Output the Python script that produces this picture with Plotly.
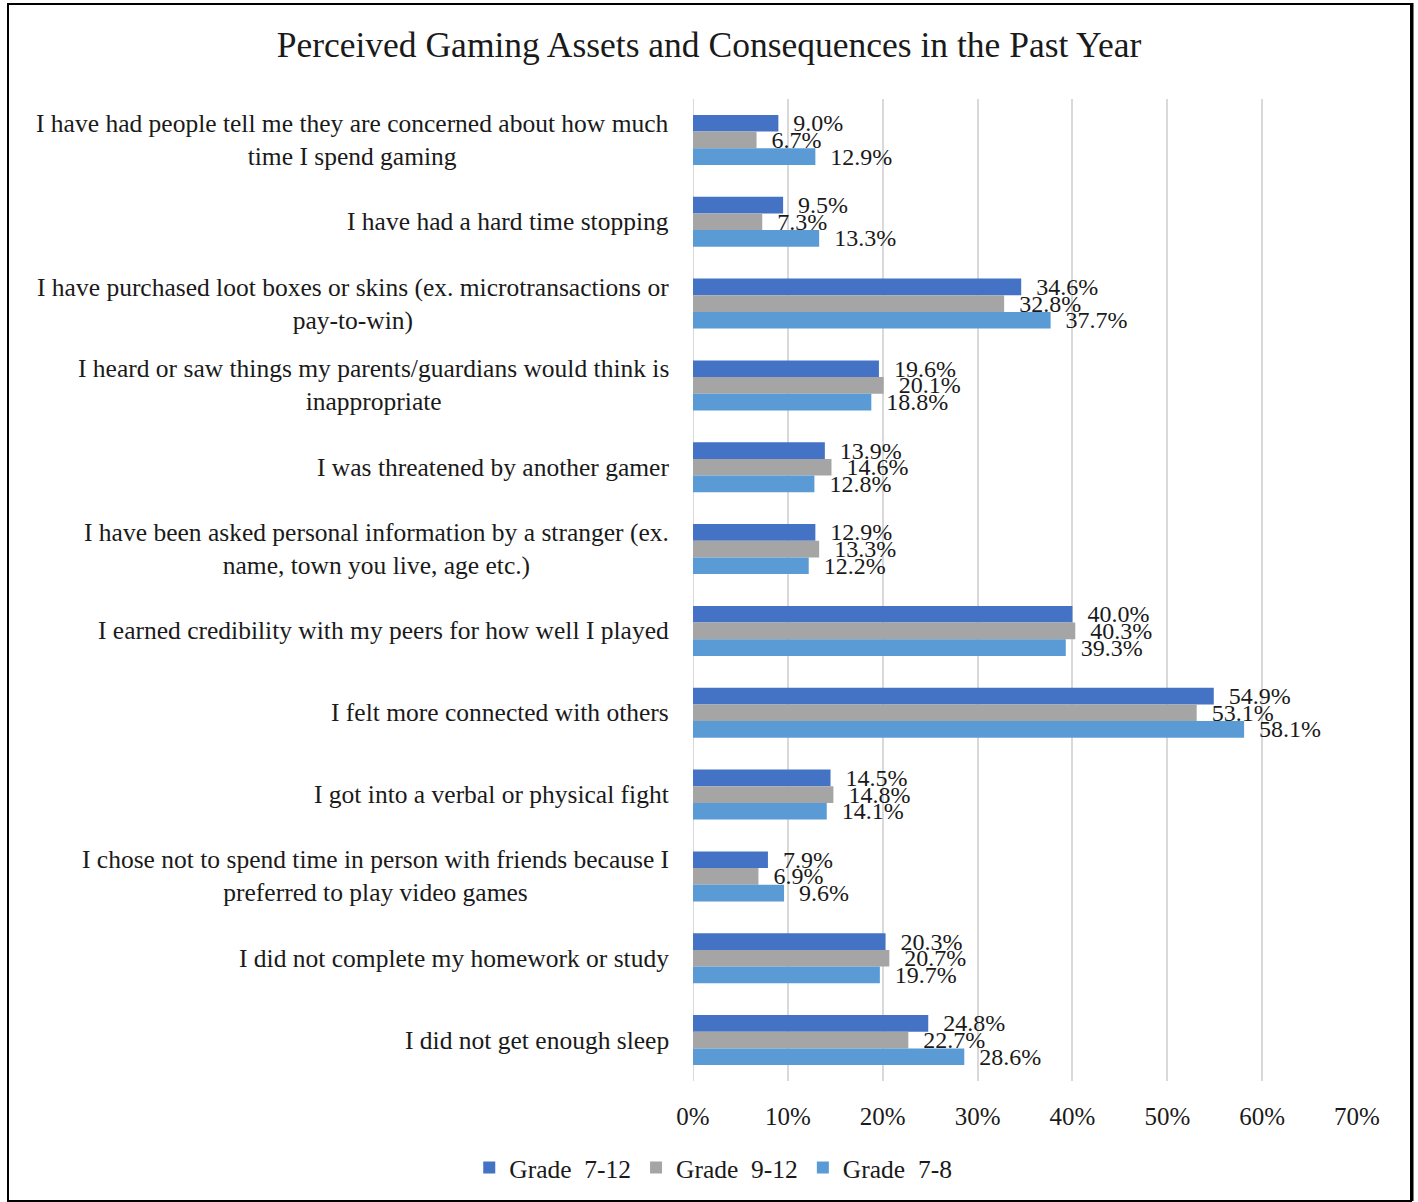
import plotly.graph_objects as go

# Survey items, listed top to bottom
categories = [
    "I have had people tell me they are concerned about how much<br>time I spend gaming",
    "I have had a hard time stopping",
    "I have purchased loot boxes or skins (ex. microtransactions or<br>pay-to-win)",
    "I heard or saw things my parents/guardians would think is<br>inappropriate",
    "I was threatened by another gamer",
    "I have been asked personal information by a stranger (ex.<br>name, town you live, age etc.)",
    "I earned credibility with my peers for how well I played",
    "I felt more connected with others",
    "I got into a verbal or physical fight",
    "I chose not to spend time in person with friends because I<br>preferred to play video games",
    "I did not complete my homework or study",
    "I did not get enough sleep",
]

# Percent of respondents per grade band
grade_7_12 = [9.0, 9.5, 34.6, 19.6, 13.9, 12.9, 40.0, 54.9, 14.5, 7.9, 20.3, 24.8]
grade_9_12 = [6.7, 7.3, 32.8, 20.1, 14.6, 13.3, 40.3, 53.1, 14.8, 6.9, 20.7, 22.7]
grade_7_8 = [12.9, 13.3, 37.7, 18.8, 12.8, 12.2, 39.3, 58.1, 14.1, 9.6, 19.7, 28.6]

series_names = ["Grade\u00a0 7-12", "Grade\u00a0 9-12", "Grade\u00a0 7-8"]
series_values = [grade_7_12, grade_9_12, grade_7_8]
series_colors = ["#4472C4", "#A5A5A5", "#5B9BD5"]

x_ticks = [0, 10, 20, 30, 40, 50, 60, 70]

FONT = "Liberation Serif"
W, H = 1418, 1202
ML, MR, MT, MB = 693, 61, 99, 121

fig = go.Figure()
for name, vals, color in zip(series_names, series_values, series_colors):
    fig.add_trace(go.Bar(
        y=categories,
        x=vals,
        name=name,
        orientation="h",
        marker=dict(color=color, line=dict(width=0)),
        text=[f"{v:.1f}%" for v in vals],
        texttemplate="\u2002%{text}",
        textposition="outside",
        constraintext="none",
        cliponaxis=False,
        textfont=dict(family=FONT, size=24, color="#1a1a1a"),
    ))

# Category labels, right-aligned to the axis with centred line wrapping
for cat in categories:
    fig.add_annotation(
        x=0, xref="paper", xanchor="right", xshift=-22,
        y=cat, yref="y", yanchor="middle",
        text=cat, showarrow=False, align="center",
        font=dict(family=FONT, size=25.5, color="#1a1a1a"),
    )

# Outer frame of the chart
pw, ph = W - ML - MR, H - MT - MB
def px_to_paper_x(px):
    return (px - ML) / pw
def px_to_paper_y(py):
    return (H - MB - py) / ph

fig.add_shape(
    type="rect", xref="paper", yref="paper", layer="above",
    x0=px_to_paper_x(8), x1=px_to_paper_x(1411),
    y0=px_to_paper_y(1201), y1=px_to_paper_y(4),
    line=dict(color="black", width=2), fillcolor="rgba(0,0,0,0)",
)
fig.add_shape(
    type="line", xref="paper", yref="paper", layer="above",
    x0=px_to_paper_x(1412), x1=px_to_paper_x(1412),
    y0=px_to_paper_y(1201), y1=px_to_paper_y(3),
    line=dict(color="black", width=3),
)

fig.update_layout(
    width=W, height=H,
    margin=dict(l=ML, r=MR, t=MT, b=MB),
    paper_bgcolor="white", plot_bgcolor="white",
    barmode="group", bargap=0.39, bargroupgap=0,
    font=dict(family=FONT, size=24, color="#1a1a1a"),
    title=dict(
        text="Perceived Gaming Assets and Consequences in the Past Year",
        x=0.5, xref="container", xanchor="center",
        y=1 - 45 / H, yref="container", yanchor="middle",
        font=dict(family=FONT, size=35.5, color="#1a1a1a"),
    ),
    xaxis=dict(
        range=[0, 70], tickvals=x_ticks, ticktext=[f"{t}%" for t in x_ticks],
        showgrid=True, gridcolor="#D9D9D9", gridwidth=2,
        zeroline=False, showline=False,
        ticks="outside", ticklen=13, tickcolor="rgba(0,0,0,0)",
        tickfont=dict(family=FONT, size=25, color="#1a1a1a"),
    ),
    yaxis=dict(
        autorange="reversed", showticklabels=False, showgrid=False,
        zeroline=False, showline=False,
    ),
    legend=dict(
        orientation="h", xref="container", yref="container",
        x=0.503, xanchor="center", y=1 - 1168 / H, yanchor="middle",
        font=dict(family=FONT, size=25.5, color="#1a1a1a"),
        traceorder="normal", itemwidth=30,
    ),
    showlegend=True,
)

# Vertical axis line at zero, drawn like a gridline
fig.add_shape(
    type="line", xref="x", yref="paper", x0=0, x1=0, y0=0, y1=1,
    line=dict(color="#D9D9D9", width=2), layer="below",
)

fig.write_html("out.html")
